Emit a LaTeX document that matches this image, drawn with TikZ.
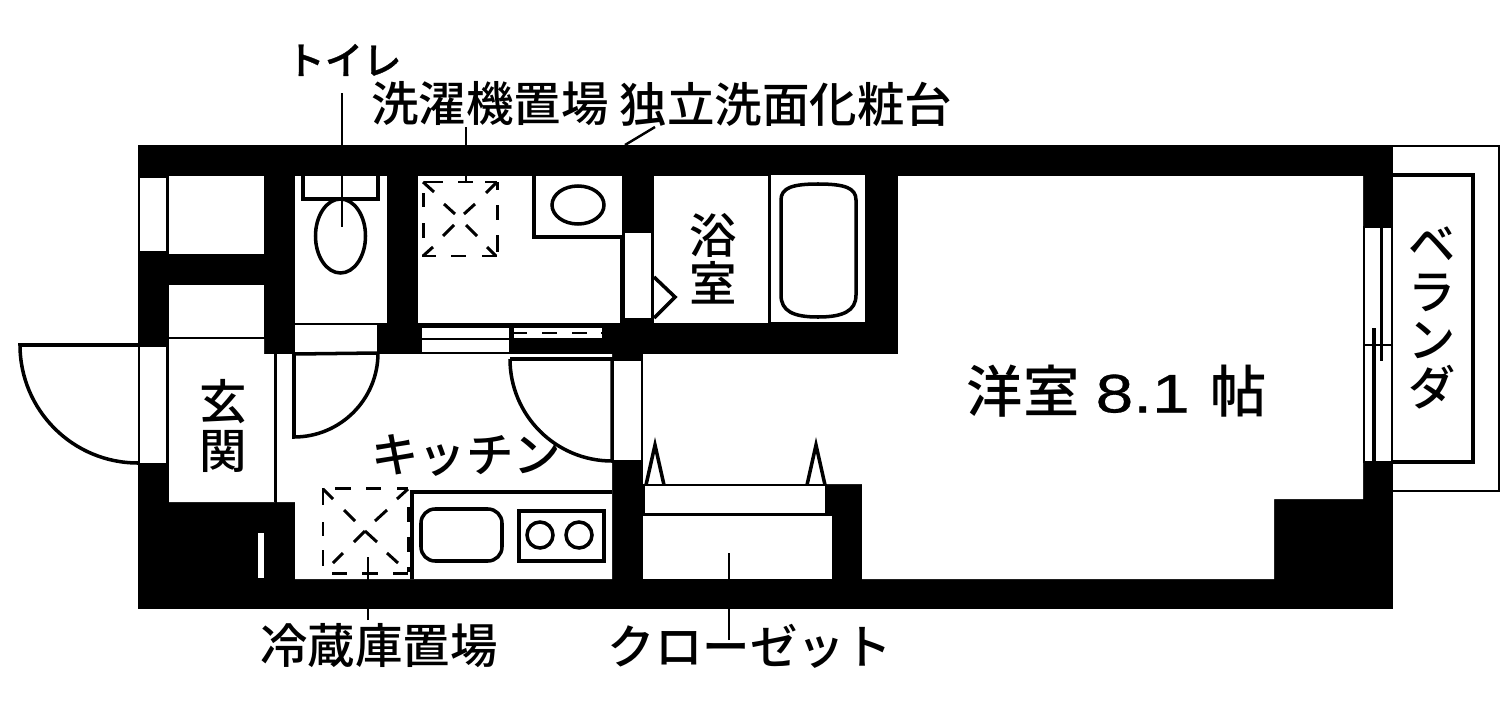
\documentclass[tikz,border=0pt]{standalone}
\usepackage{fontspec}
\setmainfont{Noto Sans CJK JP Medium}
\newfontfamily\numfont[FakeStretch=1.25,FakeBold=0.6]{Liberation Sans}
\newfontfamily\heavyfont[FakeBold=0.8]{Noto Sans CJK JP Medium}
\usepackage{tikz}

\tikzset{
	room/.style = {fill = white},
	thin_line/.style = {line width = 0.7pt},
	fixture/.style = {line width = 1pt},
	dash_line/.style = {line width = 0.85pt},
	label_text/.style = {inner sep = 0pt, align = center, font = \fontsize{13.5}{13.7}\selectfont}
}

\begin{document}
\begin{tikzpicture}[x = 0.01cm, y = -0.01cm]
\useasboundingbox (0, 0) rectangle (1500, 712);

\fill[black]	(138, 145)	rectangle	(1393, 609);

\fill[room]	(169, 176)	rectangle	(264, 254);
\fill[room]	(169, 285)	rectangle	(264, 337);
\fill[room]	(169, 339)	-- (264, 339) -- (264, 354) -- (275, 354) -- (275, 502) -- (169, 502) -- cycle;
\fill[room]	(295, 176)	rectangle	(387, 323);
\fill[room]	(295, 325)	rectangle	(377, 353);
\fill[room]	(418, 176)	rectangle	(622, 323);
\fill[room]	(654, 176)	rectangle	(768, 323);
\fill[room]	(771, 175)	rectangle	(865, 322);
\fill[room]	(277, 354)	-- (612, 354) -- (612, 579) -- (295, 579) -- (295, 502) -- (277, 502) -- cycle;
\fill[room]	(898, 176)	-- (1363, 176) -- (1363, 499) -- (1274, 499) -- (1274, 579) -- (862, 579) -- (862, 484) -- (643, 484) -- (643, 354) -- (898, 354) -- cycle;
\fill[room]	(643, 516)	rectangle	(832, 579);
\fill[room]	(258, 533)	rectangle	(264, 578);

\path[room, draw, thin_line]	(139, 177)	rectangle	(167, 252);
\path[room, draw, thin_line]	(139, 346)	rectangle	(167, 464);
\path[room, draw, thin_line]	(421, 327)	rectangle	(510, 339);
\path[room, draw, thin_line]	(421, 339)	rectangle	(510, 353);
\path[room, draw, thin_line]	(513, 327)	rectangle	(603, 339);
\path[room, draw, thin_line]	(624, 232)	rectangle	(652, 319);
\path[room, draw, thin_line]	(613, 360)	rectangle	(642, 461);
\path[room, draw, thin_line]	(644, 485)	rectangle	(826, 514);
\path[room, draw, thin_line]	(1364, 227)	rectangle	(1392, 462);

\path	(344, 60)	node(toilet_label)		[label_text, font = \fontsize{10.9}{12}\heavyfont]	{トイレ}
		(490, 104)	node(washer_label)		[label_text]									{洗濯機置場}
		(786, 104)	node(vanity_label)		[label_text]									{独立洗面化粧台}
		(379, 646)	node(fridge_label)		[label_text]									{冷蔵庫置場}
		(750, 646)	node(closet_label)		[label_text]									{クローゼット}
		(223, 426)	node(entrance_label)	[label_text]									{玄\\関}
		(713, 259)	node(bath_label)		[label_text]									{浴\\室}
		(466, 455)	node(kitchen_label)		[label_text]									{キッチン}
		(1117, 391)	node(western_label)		[label_text, font = \fontsize{16}{18}\selectfont]	{洋室\hspace{4.6pt}{\numfont\fontsize{15.4}{18}\selectfont 8.1}\hspace{6pt}帖}
		(1432, 318)	node(balcony_label)		[label_text, font = \fontsize{13.4}{13.7}\selectfont]	{ベ\\ラ\\ン\\ダ};

\coordinate	(toilet_end)	at	(342, 227);
\coordinate	(washer_end)	at	(466, 182);
\coordinate	(vanity_end)	at	(625, 145);
\coordinate	(fridge_end)	at	(368, 557);
\coordinate	(closet_end)	at	(729, 553);

\draw[thin_line]	(342, 93)	--	(toilet_end);
\draw[thin_line]	(466, 127)	--	(washer_end);
\draw[thin_line]	(655, 127)	--	(vanity_end);
\draw[thin_line]	(368, 620)	--	(fridge_end);
\draw[thin_line]	(729, 640)	--	(closet_end);

\draw[fixture]	(138, 345) -- (20, 345) arc[start angle = 180, end angle = 90, radius = 118];
\draw[fixture]	(294, 354) -- (294, 437) arc[start angle = 90, end angle = 0, radius = 84] -- cycle;
\draw[fixture]	(510, 359) -- (612, 359) -- (612, 461) arc[start angle = 90, end angle = 180, radius = 102];
\draw[thin_line]	(275, 354)	--	(275, 502);
\draw[thin_line]	(169, 338)	--	(264, 338);

\draw[fixture]	(303, 176)	|-	(378, 199)	--	(378, 176);
\draw[fixture]	(340.5, 236)	ellipse	[x radius = 25, y radius = 37];
\draw[fixture]	(534, 175)	|-	(622, 237)	--	(622, 323);
\draw[fixture]	(578, 205)	ellipse	[x radius = 26, y radius = 19];
\draw[fixture]	(654, 277)	--	(675, 297)	--	(654, 318);
\draw[thin_line]	(769.5, 176)	--	(769.5, 323);
\draw[fixture]	(781, 200) .. controls (781, 188) and (792, 184) .. (818, 184) .. controls (845, 184) and (856, 188) .. (856, 200) -- (856, 295) .. controls (856, 311) and (843, 317) .. (818, 317) .. controls (793, 317) and (781, 311) .. (781, 295) -- cycle;

\draw[fixture]	(412, 579)	|-	(612, 492);
\draw[fixture, rounded corners = 4pt]	(421, 509)	rectangle	(502, 561);
\draw[fixture]	(519, 511)	rectangle	(604, 561);
\draw[fixture]	(540, 535)	circle	[radius = 13];
\draw[fixture]	(579, 535)	circle	[radius = 13];

\foreach \xa/\ya/\xb/\yb in {
	513/333/527/333, 542/333/557/333, 572/333/587/333, 601/333/603/333,
	424/182/443/182, 458/182/473/182, 485/182/497/182, 497/182/497/190, 497/205/497/220, 497/235/497/252,
	422/256/436/256, 451/256/466/256, 482/256/497/256, 423/193/423/207, 423/223/423/238,
	423/182/434/192, 444/204/455/214, 497/182/486/193, 475/204/464/214,
	423/256/433/247, 443/236/454/225, 496/256/487/247, 477/236/466/225,
	335/488/351/488, 366/488/381/488, 397/488/408/488,
	323/488/323/505, 323/522/323/536, 323/550/323/566,
	408/507/408/522, 408/537/408/552, 408/567/408/572,
	332/573/347/573, 362/573/378/573, 393/573/408/573,
	323/489/333/499, 344/510/355/521, 408/489/397/499, 387/510/375/521,
	354/542/365/531, 365/531/377/542, 343/553/333/563, 387/553/398/563}
	\draw[dash_line]	(\xa, \ya)	--	(\xb, \yb);

\draw[fixture]	(646, 485) -- (655, 445) -- (664, 485);
\draw[fixture]	(807, 485) -- (816, 445) -- (825, 485);
\draw[thin_line]	(644, 515)	--	(832, 515);

\draw[thin_line]	(1393, 146) -- (1499, 146) -- (1499, 491) -- (1393, 491);
\draw[fixture]	(1393, 175) -- (1473, 175) -- (1473, 462) -- (1393, 462);
\draw[thin_line]	(1365, 345) -- (1392, 345);
\draw[fixture]	(1381.5, 227)	--	(1381.5, 361);
\draw[fixture]	(1374, 328)	--	(1374, 462);
\end{tikzpicture}
\end{document}
